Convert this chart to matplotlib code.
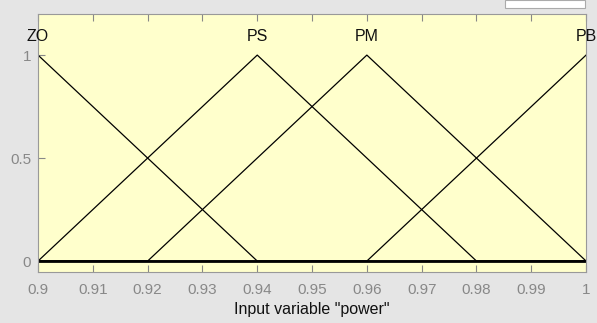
import numpy as np
import matplotlib as mpl
mpl.use('Agg')
import matplotlib.pyplot as plt
from matplotlib.patches import Rectangle

plt.rcParams['font.family'] = ['Liberation Sans', 'DejaVu Sans']

# membership functions: name, triangle (a, b, c)
mf_names = ["ZO", "PS", "PM", "PB"]
mf_params = [[0.86, 0.90, 0.94],
             [0.90, 0.94, 0.98],
             [0.92, 0.96, 1.00],
             [0.96, 1.00, 1.04]]
xticks = [0.9, 0.91, 0.92, 0.93, 0.94, 0.95, 0.96, 0.97, 0.98, 0.99, 1]
xticklabels = ["0.9", "0.91", "0.92", "0.93", "0.94", "0.95", "0.96",
               "0.97", "0.98", "0.99", "1"]
yticks = [0, 0.5, 1]
yticklabels = ["0", "0.5", "1"]

x = np.linspace(0.9, 1.0, 1001)

fig = plt.figure(figsize=(5.97, 3.23), dpi=100, facecolor='#e5e5e5')
ax = fig.add_axes([0.0637, 0.158, 0.918, 0.799])
ax.set_facecolor('#ffffcc')

for name, (a, b, c) in zip(mf_names, mf_params):
    y = np.maximum(np.minimum((x - a) / (b - a), (c - x) / (c - b)), 0)
    ax.plot(x, y, color='black', lw=0.9)
    ax.text(b, 1.068, name, ha='center', va='baseline', fontsize=11.5,
            color='#111111')

ax.axhline(0, color='black', lw=2.0)

ax.set_xlim(0.9, 1.0)
ax.set_ylim(-0.053, 1.2)
ax.set_xticks(xticks)
ax.set_xticklabels(xticklabels)
ax.set_yticks(yticks)
ax.set_yticklabels(yticklabels)
ax.tick_params(direction='in', length=5, width=0.8, colors='#888888',
               labelsize=11, top=True, right=False)
ax.tick_params(axis='x', pad=8)
ax.tick_params(axis='y', pad=5)
for s in ax.spines.values():
    s.set_color('#999999')
    s.set_linewidth(0.8)

ax.set_xlabel('Input variable "power"', fontsize=11.5, color='#111111',
              labelpad=3.5)

# small white box at the top right
fig.patches.append(Rectangle((505 / 597, 1 - 8 / 323), 80 / 597, 8 / 323,
                             transform=fig.transFigure, facecolor='white',
                             edgecolor='#aaaaaa', lw=0.8))

plt.savefig('out.png', dpi=100, facecolor=fig.get_facecolor())
